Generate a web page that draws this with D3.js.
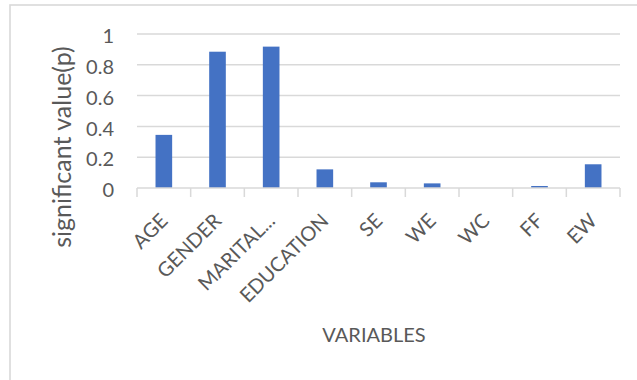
<!DOCTYPE html>
<html>
<head>
<meta charset="utf-8">
<script src="https://cdn.jsdelivr.net/npm/d3@7"></script>
<style>
  html, body { margin: 0; padding: 0; background: #fff; }
  svg { display: block; }
  text { font-family: Lato, "Open Sans", sans-serif; fill: #595959; }
</style>
</head>
<body>
<svg id="chart" width="637" height="380"></svg>
<script>
// p-values by explanatory variable
const categories = ["AGE", "GENDER", "MARITAL...", "EDUCATION", "SE", "WE", "WC", "FF", "EW"];
const pValues = [0.345, 0.885, 0.918, 0.121, 0.037, 0.030, 0.000, 0.013, 0.154];
const yTicks = [0, 0.2, 0.4, 0.6, 0.8, 1];
const yTickLabels = ["0", "0.2", "0.4", "0.6", "0.8", "1"];
const xTitle = "VARIABLES";
const yTitle = "significant value(p)";

const svg = d3.select("#chart");
const grid = "#D9D9D9";

// chart frame
svg.append("rect")
  .attr("x", 10).attr("y", 5)
  .attr("width", 640).attr("height", 390)
  .attr("fill", "none").attr("stroke", grid).attr("stroke-width", 1.6);

const plot = { left: 137, right: 620, top: 34, bottom: 188 };

const x = d3.scaleBand()
  .domain(categories)
  .range([plot.left, plot.right])
  .paddingInner(0.69)
  .paddingOuter(0.345);

const y = d3.scaleLinear().domain([0, 1]).range([plot.bottom, plot.top]);

// horizontal gridlines
svg.append("g")
  .selectAll("line")
  .data(yTicks.slice(1))
  .join("line")
  .attr("x1", plot.left).attr("x2", plot.right)
  .attr("y1", d => y(d)).attr("y2", d => y(d))
  .attr("stroke", grid).attr("stroke-width", 1.5);

// y tick labels
svg.append("g")
  .selectAll("text")
  .data(yTicks)
  .join("text")
  .attr("x", 114)
  .attr("y", d => y(d) + 2)
  .attr("dy", "0.36em")
  .attr("text-anchor", "end")
  .attr("font-size", 20)
  .text((d, i) => yTickLabels[i]);

// bars
svg.append("g")
  .selectAll("rect")
  .data(categories.map((c, i) => ({ c, v: pValues[i] })))
  .join("rect")
  .attr("x", d => x(d.c))
  .attr("width", x.bandwidth())
  .attr("y", d => y(d.v))
  .attr("height", d => y(0) - y(d.v))
  .attr("fill", "#4472C4");

// category axis line and tick marks between categories
const step = x.step();
const edges = d3.range(categories.length + 1).map(i => plot.left + i * step);
svg.append("line")
  .attr("x1", plot.left).attr("x2", plot.right)
  .attr("y1", y(0)).attr("y2", y(0))
  .attr("stroke", grid).attr("stroke-width", 1.5);
svg.append("g")
  .selectAll("line")
  .data(edges)
  .join("line")
  .attr("x1", d => d).attr("x2", d => d)
  .attr("y1", y(0)).attr("y2", y(0) + 9)
  .attr("stroke", grid).attr("stroke-width", 1.5);

// rotated category labels
svg.append("g")
  .selectAll("text")
  .data(categories)
  .join("text")
  .attr("text-anchor", "end")
  .attr("dy", "0.36em")
  .attr("font-size", 20)
  .attr("transform", d => `translate(${x(d) + x.bandwidth() / 2},217) rotate(-45)`)
  .text(d => d);

// axis titles
svg.append("text")
  .attr("x", 374).attr("y", 342)
  .attr("text-anchor", "middle")
  .attr("font-size", 20)
  .text(xTitle);

svg.append("text")
  .attr("transform", "translate(70.5,147) rotate(-90)")
  .attr("text-anchor", "middle")
  .attr("font-size", 25)
  .text(yTitle);
</script>
</body>
</html>
